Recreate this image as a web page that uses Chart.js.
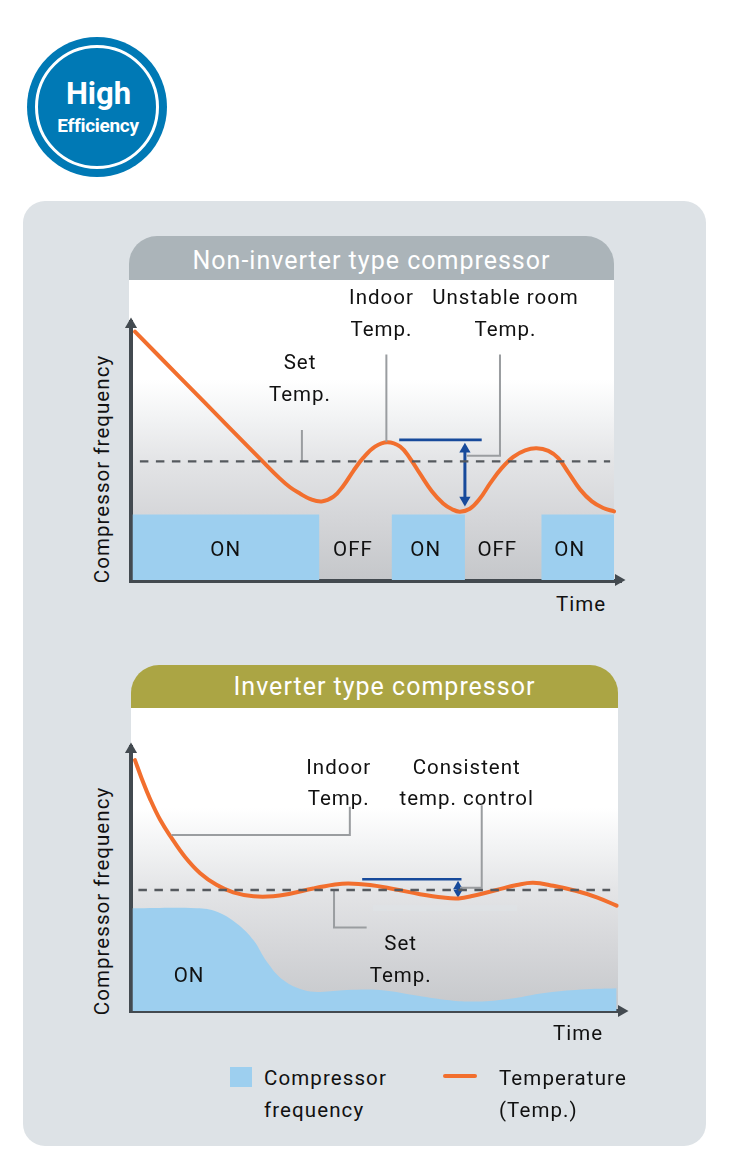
<!DOCTYPE html>
<html><head><meta charset="utf-8">
<script src="https://cdn.jsdelivr.net/npm/chart.js@4"></script>
<style>
html,body{margin:0;padding:0;background:#fff;width:734px;height:1168px;overflow:hidden}
body{position:relative;font-family:Roboto,sans-serif;color:#111}
.abs{position:absolute}
.t{position:absolute;transform:translate(-50%,-50%);white-space:nowrap;font-size:20.5px;letter-spacing:1px;line-height:1;text-align:center}
.l{position:absolute;transform:translateY(-50%);white-space:nowrap;font-size:20.5px;letter-spacing:1.1px;line-height:1}
.v{position:absolute;transform:translate(-50%,-50%) rotate(-90deg);white-space:nowrap;font-size:20.5px;letter-spacing:1.05px;line-height:1}
.head{position:absolute;color:#fff;text-align:center;font-size:25px;letter-spacing:1px;font-weight:400;box-sizing:border-box}
canvas{position:absolute}
</style></head><body>
<div class="abs" style="left:27px;top:37px;width:140px;height:140px;border-radius:50%;background:#0079b5"></div>
<div class="abs" style="left:35px;top:45px;width:124px;height:124px;border-radius:50%;border:3.5px solid #fff;box-sizing:border-box"></div>
<div class="t" style="left:98.5px;top:93px;color:#fff;font-size:31px;font-weight:700;letter-spacing:0">High</div>
<div class="t" style="left:98px;top:125px;color:#fff;font-size:19px;font-weight:700;letter-spacing:-.3px">Efficiency</div>

<div class="abs" style="left:23px;top:201px;width:683px;height:945px;border-radius:22px;background:#dde2e6"></div>

<div class="abs" style="left:129px;top:280px;width:485px;height:300px;background:linear-gradient(#fff 0,#fff 100px,#f3f4f5 135px,#e2e3e5 185px,#d4d5d8 240px,#c5c7ca 300px)"></div>
<div class="head" style="left:129px;top:236px;width:485px;height:44px;line-height:49px;background:#abb4b9;border-radius:28px 28px 0 0">Non-inverter type compressor</div>

<div class="abs" style="left:131px;top:708px;width:487px;height:302px;background:linear-gradient(#fff 0,#fff 100px,#f3f4f5 135px,#e4e5e7 180px,#d5d6d9 240px,#c6c8cb 302px)"></div>
<div class="abs" style="left:373px;top:905px;width:144px;height:6px;background:#dfe3e8;opacity:.55"></div>
<div class="head" style="left:131px;top:665px;width:487px;height:43px;line-height:44px;padding-left:20px;background:#aba544;border-radius:28px 28px 0 0">Inverter type compressor</div>

<canvas id="c1" width="515" height="285" style="left:120px;top:305px"></canvas>
<canvas id="c2" width="515" height="285" style="left:120px;top:736px"></canvas>

<div class="t" style="left:381.5px;top:297px">Indoor</div>
<div class="t" style="left:381.5px;top:329px">Temp.</div>
<div class="t" style="left:505.5px;top:297px">Unstable room</div>
<div class="t" style="left:505.5px;top:329px">Temp.</div>
<div class="t" style="left:300px;top:362px">Set</div>
<div class="t" style="left:300px;top:394px">Temp.</div>
<div class="t" style="left:225.7px;top:549px">ON</div>
<div class="t" style="left:353px;top:549px">OFF</div>
<div class="t" style="left:425.7px;top:549px">ON</div>
<div class="t" style="left:497.3px;top:549px">OFF</div>
<div class="t" style="left:569.7px;top:549px">ON</div>
<div class="t" style="left:581px;top:604px">Time</div>
<div class="v" style="left:101.5px;top:469px">Compressor frequency</div>

<div class="t" style="left:338.7px;top:767px">Indoor</div>
<div class="t" style="left:338.7px;top:798px">Temp.</div>
<div class="t" style="left:466.7px;top:767px">Consistent</div>
<div class="t" style="left:466.7px;top:798px">temp. control</div>
<div class="t" style="left:400.7px;top:943px">Set</div>
<div class="t" style="left:400.7px;top:975px">Temp.</div>
<div class="t" style="left:189px;top:975px">ON</div>
<div class="t" style="left:578px;top:1033px">Time</div>
<div class="v" style="left:101.5px;top:901px">Compressor frequency</div>

<div class="abs" style="left:230px;top:1067px;width:22px;height:20px;background:#9dcfef"></div>
<div class="l" style="left:264px;top:1078px">Compressor</div>
<div class="l" style="left:264px;top:1110px">frequency</div>
<div class="abs" style="left:443px;top:1074px;width:34px;height:4px;border-radius:2px;background:#f26f2e"></div>
<div class="l" style="left:499px;top:1078px">Temperature</div>
<div class="l" style="left:499px;top:1110px">(Temp.)</div>

<script>
// ---- Non-inverter chart data (time 0-100, frequency 0-100) ----
const nonInvTempTime = [0.8,10,20,26.7,30,32.2,34.2,36.2,38.6,41,43,45,47,49.4,51.9,54.5,56.5,58.5,60.9,63.2,65,66.6,68.6,70.6,72.7,75,77.4,79.8,82.1,84.5,86.5,88.5,90.9,93.3,95.6,97.8];
const nonInvTempVal  = [94.8,77.2,58,45.2,39,35.4,33,31,30,31.8,36,41.6,46.6,50.9,52.6,50.9,46.4,40.6,33.9,29.2,27,26.1,27.2,31,36.9,42.6,47,49.5,50.3,49.3,46.5,41.2,34.6,30,27.5,26.2];
const nonInvFreqTime = [0.3,38.1,38.1,52.8,52.8,67.6,67.6,83.1,83.1,97.8];
const nonInvFreqVal  = [25,25,0,0,25,25,0,0,25,25];
const nonInvSetTime  = [1.8,97];
const nonInvSetVal   = [45.3,45.3];
const nonInvBandTime = [54.3,71];
const nonInvBandVal  = [53.5,53.5];
const nonInvSpanTime = [67.6,67.6];
const nonInvSpanVal  = [49.9,30.5];
const nonInvLeaders  = [
  {t:[51.7,51.7],v:[86.1,52.8]},
  {t:[74.7,74.7,68],v:[86.1,47.4,47.4]},
  {t:[34.6,34.6],v:[57.3,45.4]}
];
// ---- Inverter chart data ----
const invTempTime = [0.8,2.2,3.8,5.9,8.2,10.9,14,17.3,20.7,24.8,28.8,32.2,36.9,41,44,48.4,53.1,58.5,63.2,66.3,69.3,74,78.1,81.4,85.5,90.2,94.3,98.3];
const invTempVal  = [95.8,88.6,81.2,73,66.1,58.9,52.6,48.2,45.3,43.8,43.8,44.8,46.8,48.2,48.7,48.1,46.6,44.6,43.3,43,44,46.2,48.1,49,47.8,45.8,43.4,40.2];
const invFreqTime = [0.3,13.3,17.4,21.4,24.8,27.5,30.8,34.9,38.3,43.7,50.4,57.1,63.9,69.3,76,84.1,92.2,98.3];
const invFreqVal  = [39.2,39.2,37.9,33.4,27,18.8,11.8,8,7.3,8,8,6.1,4.2,3.6,4.5,7,8.3,8.7];
const invSetTime  = [1.5,97];
const invSetVal   = [46.2,46.2];
const invBandTime = [46.8,66.9];
const invBandVal  = [50.3,50.3];
const invSpanTime = [66.2,66.2];
const invSpanVal  = [47.6,45.3];
const invLeaders  = [
  {t:[8.2,44.3,44.3],v:[67.2,67.2,78]},
  {t:[71,71,66.6],v:[78.6,47.1,47.1]},
  {t:[41.1,41.1,47.7],v:[46.2,31.9,31.9]}
];

const AXIS='#434a50', GREY='#9a9da0', BLUE='#174a9b', ORANGE='#f26f2e', SKY='#9dcfef', DASH='#55595e';
const zip=(a,b)=>a.map((x,i)=>({x,y:b[i]}));
const base={pointRadius:0,pointHoverRadius:0,fill:false,tension:0,clip:false};

function build(id,d,o){
  const sets=[
    {...base,label:'Compressor frequency',data:zip(d.freqT,d.freqV),borderWidth:0,fill:'origin',backgroundColor:SKY,tension:o.freqTension},
    {...base,label:'Set temperature',data:zip(d.setT,d.setV),borderColor:DASH,borderWidth:2.4,borderDash:[8.5,7.5]},
    ...d.leaders.map((l,i)=>({...base,label:'Leader '+i,data:zip(l.t,l.v),borderColor:GREY,borderWidth:2})),
    {...base,label:'Temperature band',data:zip(d.bandT,d.bandV),borderColor:BLUE,borderWidth:2.6},
    {...base,label:'Temperature',data:zip(d.tempT,d.tempV),borderColor:ORANGE,borderWidth:4,tension:0.4,borderCapStyle:'round'},
    {...base,label:'Temperature span',data:zip(d.spanT,d.spanV),borderColor:BLUE,borderWidth:3,pointStyle:'triangle',pointRadius:o.spanR,pointRotation:[0,180],pointBackgroundColor:BLUE,pointBorderColor:BLUE,pointBorderWidth:0},
    {...base,label:'Time axis',data:[{x:o.arrowX,y:0}],showLine:false,pointStyle:'triangle',pointRadius:7,pointRotation:90,pointBackgroundColor:AXIS,pointBorderWidth:0},
    {...base,label:'Frequency axis',data:[{x:0,y:o.arrowY}],showLine:false,pointStyle:'triangle',pointRadius:7,pointRotation:0,pointBackgroundColor:AXIS,pointBorderWidth:0}
  ];
  const axis=(min,max)=>({type:'linear',min,max,afterFit:s=>{if(s.isHorizontal())s.height=0;else s.width=0;},
    ticks:{display:false},grid:{display:true,drawOnChartArea:false,drawTicks:false},border:{display:true,color:AXIS,width:4}});
  return new Chart(document.getElementById(id),{type:'line',data:{datasets:sets},options:{
    responsive:false,animation:false,events:[],
    layout:{padding:o.pad},
    plugins:{legend:{display:false},tooltip:{enabled:false},title:{display:false}},
    scales:{x:axis(0,o.maxX),y:axis(o.minY,o.maxY)}
  }});
}

build('c1',{freqT:nonInvFreqTime,freqV:nonInvFreqVal,setT:nonInvSetTime,setV:nonInvSetVal,bandT:nonInvBandTime,bandV:nonInvBandVal,spanT:nonInvSpanTime,spanV:nonInvSpanVal,leaders:nonInvLeaders,tempT:nonInvTempTime,tempV:nonInvTempVal},
 {maxX:99.2,minY:-0.38,maxY:98.5,arrowX:98.7,arrowY:97.5,spanR:6.5,freqTension:0,pad:{left:11,right:14,top:17,bottom:9}});
build('c2',{freqT:invFreqTime,freqV:invFreqVal,setT:invSetTime,setV:invSetVal,bandT:invBandTime,bandV:invBandVal,spanT:invSpanTime,spanV:invSpanVal,leaders:invLeaders,tempT:invTempTime,tempV:invTempVal},
 {maxX:99.8,minY:0,maxY:100.8,arrowX:99.3,arrowY:99.8,spanR:5.5,freqTension:0.4,pad:{left:11,right:11,top:11,bottom:10}});
</script>
</body></html>
